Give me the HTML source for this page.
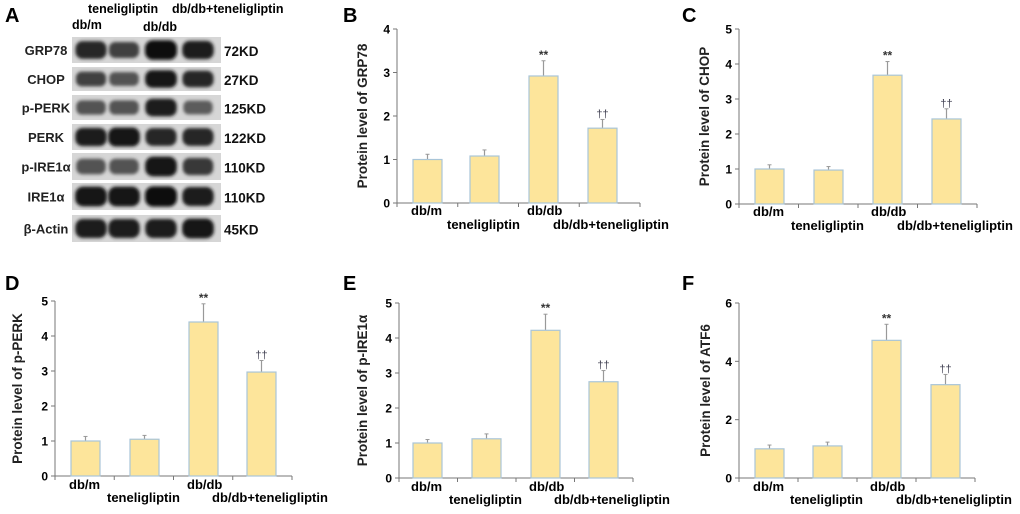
<!DOCTYPE html>
<html><head><meta charset="utf-8"><style>
html,body{margin:0;padding:0;background:#fff}
svg{display:block}
text{font-family:"Liberation Sans",Arial,sans-serif}
</style></head><body>
<svg id="fig" width="1020" height="514" viewBox="0 0 1020 514" xmlns="http://www.w3.org/2000/svg">
<defs>
<filter id="blur" x="-30%" y="-60%" width="160%" height="220%"><feGaussianBlur stdDeviation="1.6"/></filter>
</defs>
<g id="panelA"></g>
<g id="charts"></g>
</svg>
<script>
const NS="http://www.w3.org/2000/svg";
const categories=["db/m","teneligliptin","db/db","db/db+teneligliptin"];
const grp78Values=[1,1.08,2.92,1.72];
const grp78Errors=[0.12,0.14,0.35,0.2];
const chopValues=[1,0.97,3.68,2.43];
const chopErrors=[0.12,0.1,0.39,0.29];
const pperkValues=[1,1.05,4.4,2.97];
const pperkErrors=[0.13,0.11,0.52,0.33];
const pire1Values=[1,1.12,4.22,2.75];
const pire1Errors=[0.1,0.14,0.46,0.32];
const atf6Values=[1,1.1,4.72,3.2];
const atf6Errors=[0.13,0.13,0.55,0.35];
const blotRows=["GRP78","CHOP","p-PERK","PERK","p-IRE1α","IRE1α","β-Actin"];
const blotWeights=["72KD","27KD","125KD","122KD","110KD","110KD","45KD"];
const blotIntensity=[[0.85,0.7,1,0.9],[0.7,0.6,0.95,0.85],[0.6,0.6,0.9,0.55],[0.9,0.95,0.85,0.85],[0.6,0.6,0.95,0.75],[0.95,0.95,1,0.9],[0.9,0.9,0.9,0.95]];

function el(tag,attrs,parent,txt){const e=document.createElementNS(NS,tag);for(const k in attrs)e.setAttribute(k,attrs[k]);if(txt!==undefined)e.textContent=txt;parent.appendChild(e);return e;}

// Panel A
const A=document.getElementById('panelA');
const la=el('text',{x:5,y:22,'font-size':20,'font-weight':'bold'},A,'A');


const hdr=[["teneligliptin",88,13],["db/db+teneligliptin",172,13],["db/m",72,29],["db/db",143,31]];
hdr.forEach(h=>{const t=el('text',{x:h[1],y:h[2],'font-size':12.5,'font-weight':'bold'},A,h[0]);

});
const rowTop=[37,67,95,124,153,183,215],rowBot=[63,91,120,150,180,210,242];
const laneX=[91,124,161,198];
blotRows.forEach((r,i)=>{
  const g=el('g',{},A);
  
  
  el('rect',{x:72,y:rowTop[i],width:149,height:rowBot[i]-rowTop[i],fill:'#d6d6d6'},g);
  const cy=(rowTop[i]+rowBot[i])/2,h=rowBot[i]-rowTop[i];
  blotIntensity[i].forEach((v,j)=>{
    const gray=Math.round(190-180*v);
    const bh=h*(0.3+0.45*v), bwid=26+6*v;
    el('rect',{x:laneX[j]-bwid/2,y:cy-bh/2,width:bwid,height:bh,rx:bh/2.5,fill:`rgb(${gray},${gray},${gray})`,filter:'url(#blur)'},g);
  });
  const lt=el('text',{x:46,y:cy+5,'font-size':13,'font-weight':'bold','text-anchor':'middle',fill:'#222'},g,r);
  
  
  const wt=el('text',{x:224,y:cy+6,'font-size':13.5,'font-weight':'bold',fill:'#111'},g,blotWeights[i]);
  
  
});

// Charts
const C=document.getElementById('charts');
const panels=[
 {id:'b',letter:'B',lx:343,ly:22,ax:397,y0:203,yt:29,right:640,max:4,step:1,bars:[413,470,529,588],vals:grp78Values,errs:grp78Errors,title:'Protein level of GRP78',tx:362,catY:[215,229]},
 {id:'c',letter:'C',lx:682,ly:22,ax:739,y0:204,yt:29,right:977,max:5,step:1,bars:[755,814,873,932],vals:chopValues,errs:chopErrors,title:'Protein level of CHOP',tx:704,catY:[216,230]},
 {id:'d',letter:'D',lx:5,ly:290,ax:55,y0:476,yt:301,right:292,max:5,step:1,bars:[71,130,189,247],vals:pperkValues,errs:pperkErrors,title:'Protein level of p-PERK',tx:17,catY:[489,502]},
 {id:'e',letter:'E',lx:343,ly:290,ax:399,y0:478,yt:303,right:633,max:5,step:1,bars:[413,472,531,589],vals:pire1Values,errs:pire1Errors,title:'Protein level of  p-IRE1α',tx:362,catY:[491,504]},
 {id:'f',letter:'F',lx:682,ly:290,ax:739,y0:478,yt:303,right:975,max:6,step:2,bars:[755,813,872,931],vals:atf6Values,errs:atf6Errors,title:'Protein level of  ATF6',tx:705,catY:[491,504]}
];
panels.forEach(p=>{
  const g=el('g',{},C);
  
  
  const y=v=>p.y0-(v/p.max)*(p.y0-p.yt);
  const bw=29;
  const L=el('text',{x:p.lx,y:p.ly,'font-size':20,'font-weight':'bold'},g,p.letter);
  
  
  el('line',{x1:p.ax,y1:p.yt,x2:p.ax,y2:p.y0,stroke:'#777','stroke-width':1},g);
  el('line',{x1:p.ax,y1:p.y0,x2:p.right,y2:p.y0,stroke:'#777','stroke-width':1},g);
  for(let v=0;v<=p.max;v+=p.step){
    el('line',{x1:p.ax-4,y1:y(v),x2:p.ax,y2:y(v),stroke:'#777'},g);
    const t=el('text',{x:p.ax-7,y:y(v)+4.5,'font-size':12,'font-weight':'bold','text-anchor':'end'},g,String(v));
    
    
  }
  const slot=(p.right-p.ax)/4;
  for(let k=0;k<=4;k++){el('line',{x1:p.ax+k*slot,y1:p.y0,x2:p.ax+k*slot,y2:p.y0+4,stroke:'#777'},g);}
  const yt=el('text',{transform:`translate(${p.tx+5},${(p.yt+p.y0)/2}) rotate(-90)`,'font-size':13.5,'font-weight':'bold','text-anchor':'middle',fill:'#222'},g,p.title);
  
  
  p.vals.forEach((v,i)=>{
    const x=p.bars[i],cx=x+bw/2;
    const e=p.vals[i]+p.errs[i];
    el('line',{x1:cx,y1:y(v),x2:cx,y2:y(e),stroke:'#999','stroke-width':1.2},g);
    el('line',{x1:cx-2,y1:y(e),x2:cx+2,y2:y(e),stroke:'#999','stroke-width':1},g);
    const b=el('rect',{x:x,y:y(v),width:bw,height:p.y0-y(v),fill:'#fde59b',stroke:'#a9c5d8','stroke-width':1.2},g);
    
    
    if(i===2){const s=el('text',{x:cx,y:y(e)-2,'font-size':12,'font-weight':'bold','text-anchor':'middle',fill:'#333'},g,'**');
      
      }
    if(i===3){const s=el('text',{x:cx,y:y(e)-2,'font-size':11,'text-anchor':'middle',fill:'#445'},g,'††');
      
      }
  });
  const cx0=[p.bars[0]-2,p.bars[1]-23,p.bars[2]-2,p.bars[3]-35];
  categories.forEach((c,i)=>{
    const t=el('text',{x:cx0[i],y:p.catY[i%2],'font-size':13,'font-weight':'bold'},g,c);
    
    
  });
});
</script>
</body></html>
